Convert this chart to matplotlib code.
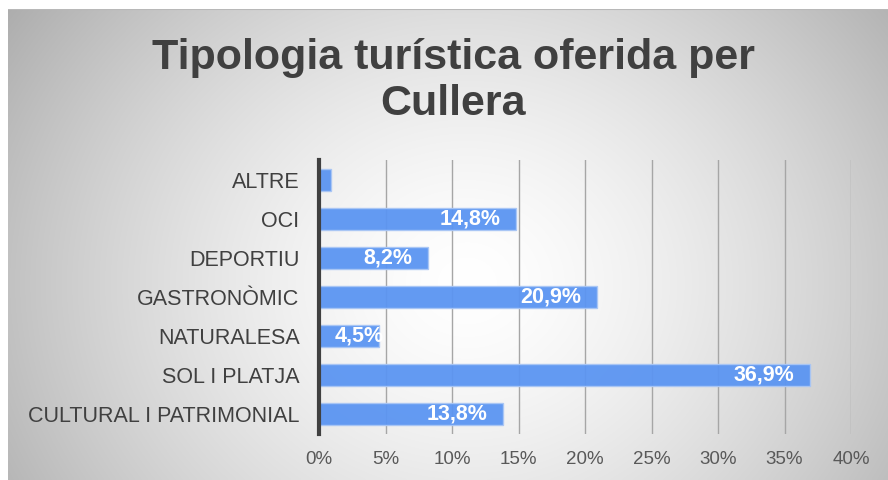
import numpy as np
import matplotlib
matplotlib.use("Agg")
import matplotlib.pyplot as plt
from matplotlib.transforms import offset_copy

categories = ["CULTURAL I PATRIMONIAL", "SOL I PLATJA", "NATURALESA", "GASTRONÒMIC",
              "DEPORTIU", "OCI", "ALTRE"]
values = [13.8, 36.9, 4.5, 20.9, 8.2, 14.8, 0.9]
labels = ["13,8%", "36,9%", "4,5%", "20,9%", "8,2%", "14,8%", ""]
xticks = [0, 5, 10, 15, 20, 25, 30, 35, 40]
xticklabels = ["0%", "5%", "10%", "15%", "20%", "25%", "30%", "35%", "40%"]
title = "Tipologia turística oferida per\nCullera"

plt.rcParams['font.family'] = ['Liberation Sans', 'DejaVu Sans']

W, H = 888, 480
fig = plt.figure(figsize=(W / 100, H / 100), dpi=100)
fig.patch.set_facecolor("white")

# gradient background panel
bg = fig.add_axes([8 / W, 0, (W - 8) / W, (H - 9) / H])
bg.set_axis_off()
ny, nx = 200, 370
yy, xx = np.mgrid[0:ny, 0:nx]
cx, cy = nx * 0.52, ny * 0.58
r = np.sqrt(((xx - cx) / (nx * 0.52)) ** 2 + ((yy - cy) / (ny * 0.85)) ** 2)
val = 1.0 - 0.24 * np.clip(r, 0, 1.3) ** 1.5
img = np.dstack([val, val, val])
bg.imshow(img, aspect="auto", extent=[0, 1, 0, 1], origin="upper", interpolation="bilinear")
bg.set_xlim(0, 1)
bg.set_ylim(0, 1)
bg.plot([0, 1], [1, 1], color="#b8b8b8", lw=1.5)

ax = fig.add_axes([319 / W, 1 - 434 / H, (851 - 319) / W, (434 - 160) / H])
ax.patch.set_alpha(0)
y = np.arange(len(categories))
bars = ax.barh(y, values, height=0.56, color="#5b95f2", alpha=0.95,
               edgecolor="#a9c6f5", linewidth=1.0, zorder=3)
ax.set_xlim(0, 40)
ax.set_ylim(-0.5, len(categories) - 0.5)

fig.canvas.draw()
renderer = fig.canvas.get_renderer()
for b, lab in zip(bars, labels):
    if not lab:
        continue
    yc = b.get_y() + b.get_height() / 2
    t = ax.text(b.get_width(), yc, lab, ha="right", va="center", color="white",
                fontsize=15.5, fontweight="bold", zorder=4,
                transform=offset_copy(ax.transData, fig=fig, x=-11, y=0, units="points"))
    tw = t.get_window_extent(renderer).width
    bar_px = ax.transData.transform((b.get_width(), 0))[0] - ax.transData.transform((0, 0))[0]
    if bar_px - 15 < tw + 14:
        t.set_ha("left")
        t.set_x(0)
        t.set_transform(offset_copy(ax.transData, fig=fig, x=11, y=0, units="points"))
        t.set_clip_path(b)

ax.set_xticks(xticks)
ax.set_xticklabels(xticklabels, fontsize=13.5, color="#595959")
ax.set_yticks(y)
ax.set_yticklabels(categories, fontsize=15.5, color="#404040")
ax.tick_params(axis="both", length=0)
ax.tick_params(axis="x", pad=12)
ax.tick_params(axis="y", pad=14)
ax.grid(axis="x", color="#a6a6a6", linewidth=1.0, zorder=1)
for s in ["top", "right", "bottom"]:
    ax.spines[s].set_visible(False)
ax.spines["left"].set_color("#404040")
ax.spines["left"].set_linewidth(3)
ax.spines["left"].set_zorder(5)

fig.text(453 / W, 1 - 81 / H, title, ha="center", va="center", fontsize=31,
         fontweight="bold", color="#404040", linespacing=1.22)

fig.savefig("out.png", dpi=100)
